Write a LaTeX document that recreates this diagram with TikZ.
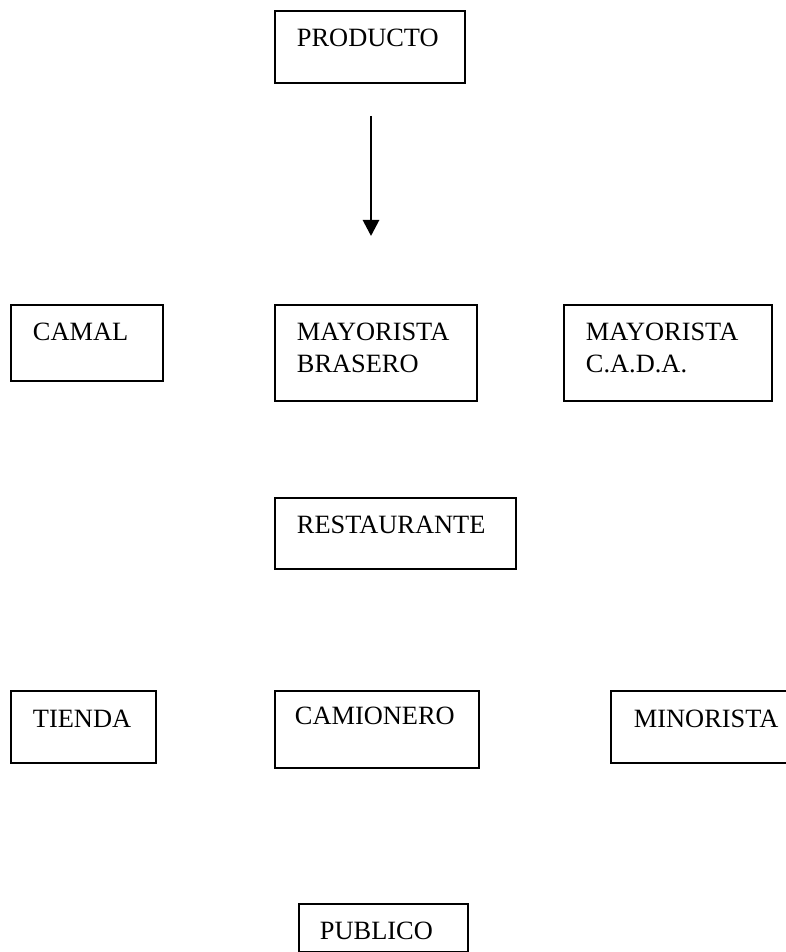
\documentclass[tikz,border=0pt]{standalone}
\usepackage{fontspec}
\setmainfont{Liberation Serif}
\usetikzlibrary{arrows.meta, positioning}

\begin{document}
\begin{tikzpicture}[x=0.5pt, y=-0.5pt,
			caja/.style={draw=black, line width=0.9pt, anchor=north west, align=left,
				inner xsep=11pt, inner ysep=0pt, text height=18pt, text depth=18pt,
				font=\fontsize{13.2}{16}\selectfont},
			flecha/.style={-{Triangle[width=8pt, length=8pt]}, line width=1.4pt, black}]
			\useasboundingbox (0,0) rectangle (786,952);
			\node[caja, text width=73pt] (producto) at (274,10) {PRODUCTO};
			\coordinate (flechaini) at (371,116);
			\coordinate (flechafin) at (371,236);
			\draw[flecha] (flechaini) -- (flechafin);
			\node[caja, text width=54pt, text depth=20pt] (camal) at (10,304) {CAMAL};
			\node[caja, text width=79pt, text depth=30pt] (brasero) at (274,304) {MAYORISTA\\BRASERO};
			\node[caja, text width=82pt, text depth=30pt] (cada) at (563,304) {MAYORISTA\\C.A.D.A.};
			\node[caja, text width=98.5pt, text depth=17.5pt] (restaurante) at (274,497) {RESTAURANTE};
			\node[caja, text width=50.5pt, text height=18.5pt, text depth=17.5pt] (tienda) at (10,690) {TIENDA};
			\node[caja, text width=82pt, inner xsep=10pt, text height=17pt, text depth=21.5pt] (camionero) at (274,690) {CAMIONERO};
			\node[caja, text width=74pt, inner xsep=11.5pt, text height=18.5pt, text depth=17.5pt] (minorista) at (610,690) {MINORISTA};
			\node[caja, text width=63.5pt, inner xsep=10.5pt, text depth=6pt] (publico) at (298,903) {PUBLICO};
		\end{tikzpicture}
\end{document}
